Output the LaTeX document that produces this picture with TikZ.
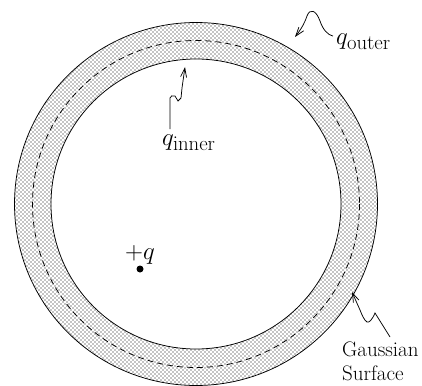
\documentclass[tikz,border=0pt]{standalone}
\usetikzlibrary{arrows.meta,patterns}
\pgfdeclarepatternformonly{ringdots}{\pgfqpoint{-1pt}{-1pt}}{\pgfqpoint{5pt}{5pt}}{\pgfqpoint{4pt}{4pt}}{%
  \pgfpathcircle{\pgfqpoint{1pt}{1pt}}{0.7pt}%
  \pgfpathcircle{\pgfqpoint{3pt}{3pt}}{0.7pt}%
  \pgfusepath{fill}}
\begin{document}
\begin{tikzpicture}[x=1pt,y=-1pt,
  edge/.style={line width=0.75pt},
  tipped/.style={-{Straight Barb[length=9pt,width=6pt]}},
  lbl/.style={inner sep=0pt, font=\fontsize{30}{32}\selectfont}]
\useasboundingbox (0,0) rectangle (422,385);
\coordinate (c) at (196,204);
% ring
\fill[pattern=ringdots, even odd rule] (c) circle[radius=181.5] (c) circle[radius=145];
\draw[edge] (c) circle[radius=181.5];
\draw[edge] (c) circle[radius=145];
\draw[edge, dash pattern=on 6pt off 4pt] (c) circle[radius=163.5];
% point charge
\node[circle, fill, inner sep=0pt, minimum size=7pt] (qdot) at (140,269) {};
% labels
\node[lbl, anchor=base west] (qout) at (336,45) {$q_{\mathrm{outer}}$};
\node[lbl, anchor=base west] (qin) at (162,145) {$q_{\mathrm{inner}}$};
\node[lbl, anchor=base west, font=\fontsize{28}{30}\selectfont] (pq) at (125,259) {$+q$};
\node[inner sep=0pt, anchor=north west, align=left, font=\fontsize{21}{24}\selectfont] (gs) at (342,342) {Gaussian\\Surface};
% arrow tips
\coordinate (qouttip) at (295,37);
\coordinate (qintip) at (185,67);
\coordinate (gstip) at (352,292);
% squiggly arrows
\draw[edge, tipped] ([xshift=-3pt,yshift=-2pt]qout.north west)
  .. controls (328,35) and (323,30) .. (320,21)
  .. controls (316,10) and (310,8) .. (307,16)
  .. controls (305,22) and (302,28) .. (qouttip);
\draw[edge, tipped] ([xshift=8pt,yshift=5pt]qin.north west) -- (170,98)
  .. controls (170,96) and (173,95) .. (175,96)
  -- (178,101) -- (181,98) -- (182,88) -- (qintip);
\draw[edge, tipped] ([xshift=48pt,yshift=5pt]gs.north west) -- (375,313)
  .. controls (372,320) and (369,323) .. (367,322)
  .. controls (364,320) and (362,315) .. (360,310) -- (gstip);
\end{tikzpicture}
\end{document}
